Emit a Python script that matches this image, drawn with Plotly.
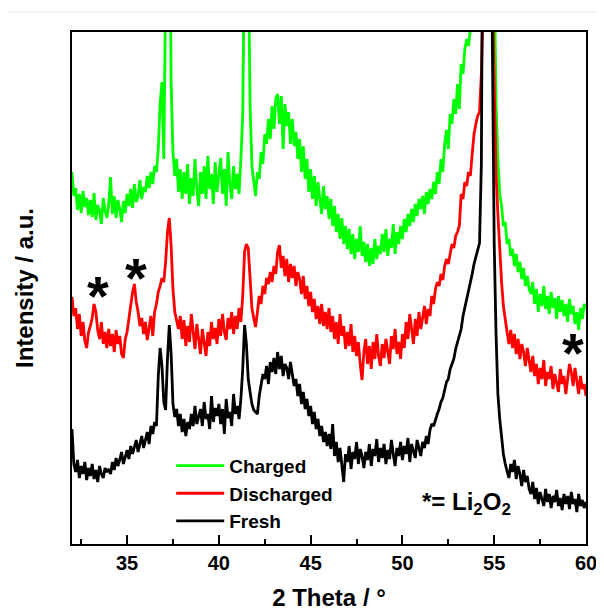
import numpy as np
import plotly.graph_objects as go

# 2-theta grid: 32.0 .. 60.0 in 0.1 degree steps
two_theta = [round(32.0 + 0.1 * i, 1) for i in range(281)]

# Intensities (a.u., offset stacked as in the figure), one row per degree
charged = [
    372, 348, 356, 334, 350, 331, 353, 337, 346, 329,   # 32
    344, 327, 351, 324, 339, 333, 320, 346, 334, 326,   # 33
    340, 367, 330, 348, 326, 344, 335, 322, 343, 331,   # 34
    350, 338, 355, 336, 360, 342, 348, 364, 345, 357,   # 35
    352, 368, 356, 372, 360, 378, 372, 395, 440, 462,   # 36
    385, 470, 720, 690, 460, 392, 368, 385, 352, 375,   # 37
    345, 372, 350, 380, 340, 366, 348, 385, 355, 338,   # 38
    372, 350, 378, 345, 388, 355, 370, 340, 382, 352,   # 39
    368, 386, 350, 375, 338, 392, 360, 345, 378, 355,   # 40
    370, 350, 385, 430, 610, 720, 600, 440, 378, 360,   # 41
    348, 372, 365, 392, 380, 410, 400, 425, 405, 438,   # 42
    415, 445, 450, 420, 448, 395, 440, 418, 432, 400,   # 43
    425, 398, 412, 385, 405, 372, 398, 365, 385, 352,   # 44
    375, 345, 368, 338, 362, 345, 330, 358, 335, 348,   # 45
    325, 345, 318, 338, 312, 330, 305, 326, 300, 318,   # 46
    295, 315, 290, 310, 285, 305, 292, 318, 288, 302,   # 47
    282, 300, 278, 296, 280, 305, 285, 298, 290, 310,   # 48
    292, 315, 288, 305, 296, 320, 290, 312, 300, 318,   # 49
    305, 325, 312, 330, 318, 335, 322, 340, 328, 345,   # 50
    335, 348, 330, 352, 340, 355, 345, 362, 350, 372,   # 51
    360, 385, 372, 400, 414, 395, 430, 420, 445, 430,   # 52
    460, 435, 480, 470, 495, 505, 498, 515, 530, 560,   # 53
    580, 620, 700, 800, 900, 1000, 1100, 1000, 850, 700,  # 54
    540, 440, 385, 350, 338, 318, 322, 300, 305, 288,   # 55
    295, 278, 290, 272, 282, 265, 276, 258, 268, 255,   # 56
    250, 262, 240, 255, 232, 250, 238, 258, 235, 248,   # 57
    230, 252, 236, 246, 225, 248, 232, 244, 228, 240,   # 58
    222, 245, 230, 238, 220, 232, 214, 236, 225, 240,   # 59
    235,
]

discharged = [
    247, 228, 236, 215, 230, 208, 222, 203, 196, 212,   # 32
    218, 226, 240, 232, 214, 205, 222, 200, 212, 196,   # 33
    215, 198, 210, 192, 214, 200, 208, 190, 186, 205,   # 34
    212, 226, 238, 252, 260, 242, 232, 218, 226, 210,   # 35
    222, 204, 216, 228, 208, 232, 240, 252, 258, 266,   # 36
    262, 282, 312, 326, 298, 255, 232, 222, 215, 228,   # 37
    205, 224, 198, 218, 202, 230, 212, 195, 220, 206,   # 38
    190, 215, 200, 188, 212, 198, 222, 205, 216, 200,   # 39
    225, 208, 230, 212, 204, 226, 215, 232, 210, 228,   # 40
    215, 236, 222, 248, 292, 300, 296, 262, 236, 226,   # 41
    217, 232, 248, 240, 258, 250, 266, 260, 272, 262,   # 42
    278, 270, 292, 299, 276, 288, 268, 285, 262, 280,   # 43
    266, 278, 258, 272, 265, 250, 268, 245, 258, 238,   # 44
    252, 232, 245, 225, 238, 220, 240, 218, 232, 215,   # 45
    236, 212, 228, 205, 222, 200, 230, 208, 218, 195,   # 46
    212, 198, 220, 192, 208, 188, 202, 180, 164, 192,   # 47
    205, 180, 198, 175, 202, 185, 210, 188, 178, 200,   # 48
    186, 205, 192, 180, 208, 195, 215, 190, 202, 185,   # 49
    210, 196, 222, 205, 230, 212, 200, 225, 208, 232,   # 50
    215, 226, 238, 220, 235, 228, 248, 240, 255, 262,   # 51
    258, 270, 264, 278, 285, 280, 292, 300, 296, 308,   # 52
    312, 318, 350, 345, 362, 358, 372, 368, 390, 410,   # 53
    420, 428, 432, 470, 540, 800, 1200, 1100, 800, 560,  # 54
    460, 370, 330, 290, 262, 238, 222, 212, 200, 214,   # 55
    196, 210, 190, 205, 185, 200, 192, 178, 196, 182,   # 56
    172, 188, 168, 180, 160, 176, 165, 184, 158, 172,   # 57
    165, 178, 155, 170, 162, 152, 175, 160, 168, 150,   # 58
    165, 180, 172, 158, 176, 162, 150, 168, 155, 160,   # 59
    148,
]

fresh = [
    115, 80, 72, 84, 66, 78, 70, 82, 64, 76,            # 32
    68, 80, 65, 74, 62, 78, 70, 66, 76, 72,             # 33
    75, 70, 82, 74, 86, 78, 84, 92, 80, 88,             # 34
    94, 85, 98, 90, 96, 104, 92, 100, 108, 96,          # 35
    105, 112, 100, 118, 110, 122, 118, 168, 196, 178,   # 36
    142, 134, 185, 219, 190, 140, 127, 135, 118, 130,   # 37
    112, 125, 108, 122, 115, 130, 118, 138, 120, 128,   # 38
    135, 118, 142, 125, 130, 115, 148, 122, 136, 128,   # 39
    140, 120, 135, 110, 145, 126, 132, 118, 150, 130,   # 40
    138, 125, 145, 175, 219, 200, 165, 152, 140, 134,   # 41
    132, 130, 148, 158, 170, 165, 178, 160, 182, 172,   # 42
    186, 170, 192, 175, 188, 168, 180, 176, 165, 182,   # 43
    170, 158, 165, 148, 160, 140, 152, 135, 145, 128,   # 44
    138, 120, 132, 115, 125, 108, 118, 102, 112, 98,    # 45
    110, 95, 120, 88, 102, 82, 96, 78, 62, 90,          # 46
    82, 98, 75, 92, 85, 102, 80, 95, 88, 76,            # 47
    92, 84, 100, 78, 95, 88, 105, 82, 96, 86,           # 48
    100, 80, 94, 85, 104, 90, 78, 96, 88, 102,          # 49
    84, 98, 90, 106, 82, 100, 92, 86, 104, 95,          # 50
    88, 102, 96, 108, 100, 114, 120, 118, 125, 130,     # 51
    135, 142, 146, 155, 162, 165, 175, 180, 185, 195,   # 52
    201, 208, 215, 228, 236, 244, 252, 262, 270, 280,   # 53
    287, 294, 301, 380, 520, 900, 1500, 1200, 700, 480,  # 54
    300, 210, 150, 125, 104, 90, 80, 74, 66, 80,        # 55
    72, 84, 65, 78, 70, 58, 74, 62, 68, 55,             # 56
    50, 62, 45, 56, 40, 52, 46, 38, 55, 42,             # 57
    50, 36, 48, 42, 54, 38, 46, 34, 50, 40,             # 58
    48, 35, 52, 40, 45, 32, 50, 38, 44, 36,             # 59
    42,
]

series_names = ["Charged", "Discharged", "Fresh"]
series_colors = ["#00FF00", "#FF0000", "#000000"]

# Li2O2 reflection markers (2-theta, intensity level of the star label)
star_x = [33.42, 35.49, 59.3]
star_y = [256, 274, 199]

x_ticks = [35, 40, 45, 50, 55, 60]

FONT = "Liberation Sans, Arial, sans-serif"

fig = go.Figure()
for name, color, vals in zip(series_names, series_colors, [charged, discharged, fresh]):
    fig.add_trace(go.Scatter(
        x=two_theta, y=vals, mode="lines", name=name,
        line=dict(color=color, width=2.8),
    ))

for sx, sy in zip(star_x, star_y):
    fig.add_annotation(
        x=sx, y=sy, text="*", showarrow=False,
        font=dict(family=FONT, size=56, color="black", weight="bold"),
        xanchor="center", yanchor="middle", yshift=-7,
    )

fig.add_annotation(
    x=50.98, y=41, text="*= Li<sub>2</sub>O<sub>2</sub>", showarrow=False,
    font=dict(family=FONT, size=24, color="black", weight="bold"),
    xanchor="left", yanchor="middle",
)

# light rule at top of page (as in the reference image)
fig.add_shape(type="line", xref="paper", yref="paper",
              x0=-0.2, x1=1.1, y0=1.039, y1=1.039,
              line=dict(color="#e3e3e3", width=1))

fig.update_layout(
    width=596, height=612,
    margin=dict(l=64, r=18, t=24, b=76, autoexpand=False),
    paper_bgcolor="white", plot_bgcolor="white",
    font=dict(family=FONT, color="black"),
    showlegend=True,
    legend=dict(
        x=0.193, y=0.190, xanchor="left", yanchor="top",
        bgcolor="rgba(0,0,0,0)",
        font=dict(family=FONT, size=19, color="black", weight="bold"),
        tracegroupgap=0, itemwidth=48,
    ),
)

fig.update_xaxes(
    range=[32, 60], tickvals=x_ticks, automargin=False,
    showline=True, linewidth=2, linecolor="black", mirror=True,
    ticks="inside", ticklen=9, tickwidth=2, tickcolor="black",
    ticklabelstandoff=0,
    minor=dict(dtick=2.5, tick0=32.5, ticks="inside", ticklen=5, tickwidth=2, tickcolor="black"),
    showgrid=False, zeroline=False,
    tickfont=dict(family=FONT, size=20, color="black", weight="bold"),
    title=dict(text="2 Theta / °", standoff=16,
               font=dict(family=FONT, size=24, color="black", weight="bold")),
)
fig.update_yaxes(
    range=[0, 512], automargin=False,
    showline=True, linewidth=2, linecolor="black", mirror=True,
    ticks="", showticklabels=False, showgrid=False, zeroline=False,
    title=dict(text="Intensity / a.u.", standoff=30,
               font=dict(family=FONT, size=24, color="black", weight="bold")),
)

fig.write_html("out.html")
